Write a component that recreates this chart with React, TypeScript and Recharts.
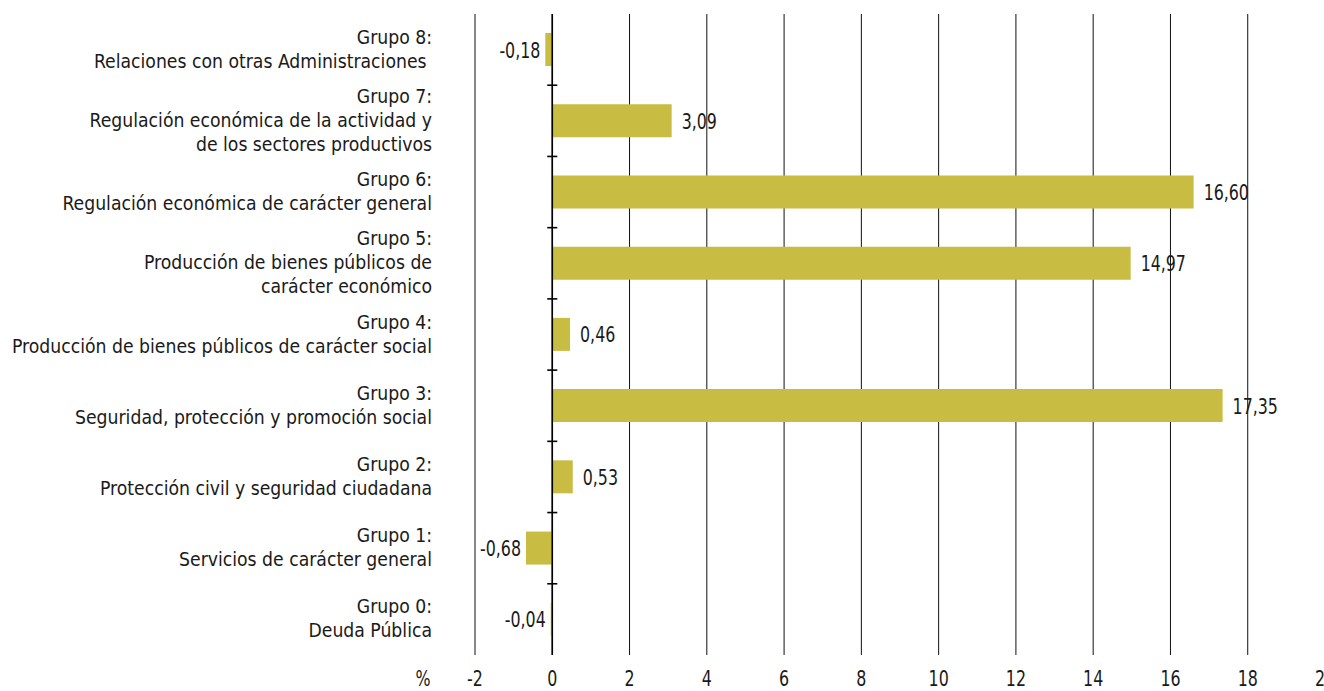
import { BarChart, Bar, XAxis, YAxis, CartesianGrid, ReferenceLine, LabelList } from "recharts";

const groups = ["Grupo 8:", "Grupo 7:", "Grupo 6:", "Grupo 5:", "Grupo 4:", "Grupo 3:", "Grupo 2:", "Grupo 1:", "Grupo 0:"];
const descriptions = [
  ["Relaciones con otras Administraciones\u00a0"],
  ["Regulación económica de la actividad y", "de los sectores productivos"],
  ["Regulación económica de carácter general"],
  ["Producción de bienes públicos de", "carácter económico"],
  ["Producción de bienes públicos de carácter social"],
  ["Seguridad, protección y promoción social"],
  ["Protección civil y seguridad ciudadana"],
  ["Servicios de carácter general"],
  ["Deuda Pública"],
];
const values = [-0.18, 3.09, 16.6, 14.97, 0.46, 17.35, 0.53, -0.68, -0.04];
const xTicks = [-2, 0, 2, 4, 6, 8, 10, 12, 14, 16, 18, 20];

const data = groups.map((g, i) => ({ name: g, lines: [g, ...descriptions[i]], value: values[i] }));

const FONT = "'DejaVu Sans Condensed', 'DejaVu Sans', sans-serif";
const BAR = "#c8bc42";
const INK = "#1a1a1a";

const fmt = (v: number) => v.toFixed(2).replace(".", ",");

// condensed text: the original uses a narrow DIN-like face
function Txt({ x, y, size, sx, anchor, children }: any) {
  return (
    <g transform={`translate(${x},${y}) scale(${sx},1)`}>
      <text x={0} y={0} textAnchor={anchor} fontFamily={FONT} fontSize={size} fill={INK}>
        {children}
      </text>
    </g>
  );
}

function YTick(props: any) {
  const { x, y, payload } = props;
  const row = data.find((d) => d.name === payload.value);
  const lines = row ? row.lines : [payload.value];
  const lh = 24;
  const first = y - ((lines.length - 1) * lh) / 2 + 6;
  return (
    <g>
      {lines.map((l: string, i: number) => (
        <Txt key={i} x={x - 43} y={first + i * lh} size={20} sx={0.96} anchor="end">{l}</Txt>
      ))}
    </g>
  );
}

function XTick(props: any) {
  const { x, y, payload } = props;
  return (
    <g>
      {payload.value === -2 && <Txt x={x - 52} y={y + 23} size={22} sx={0.8} anchor="middle">%</Txt>}
      <Txt x={x} y={y + 23} size={22} sx={0.8} anchor="middle">{payload.value}</Txt>
    </g>
  );
}

function ValueLabel(props: any) {
  const { x, y, width, height, value } = props;
  const left = Math.min(x, x + width);
  const right = Math.max(x, x + width);
  const neg = value < 0;
  return (
    <Txt x={neg ? left - 5 : right + 10} y={y + height / 2 + 8} size={22} sx={0.8} anchor={neg ? "end" : "start"}>
      {fmt(value)}
    </Txt>
  );
}

export default function App() {
  return (
    <div style={{ position: "absolute", left: 0, top: 0, width: 1324, height: 691, overflow: "hidden", background: "#fff" }}>
      <BarChart
        width={1340}
        height={691}
        data={data}
        layout="vertical"
        margin={{ top: 14, right: 15, bottom: 0, left: 0 }}
      >
        <CartesianGrid horizontal={false} stroke="#111" strokeWidth={1} />
        <XAxis
          type="number"
          domain={[-2, 20]}
          ticks={xTicks}
          interval={0}
          axisLine={false}
          tickLine={false}
          height={36}
          tick={<XTick />}
        />
        <YAxis
          type="category"
          dataKey="name"
          width={475}
          axisLine={false}
          tickLine={false}
          tickSize={0}
          tickMargin={0}
          interval={0}
          tick={<YTick />}
        />
        <ReferenceLine x={0} stroke="#000" strokeWidth={1.6} />
        {/* small cross ticks on the zero line between groups */}
        {groups.slice(1).map((g) => (
          <ReferenceLine
            key={g}
            position="start"
            segment={[{ x: -0.13, y: g }, { x: 0.13, y: g }]}
            stroke="#000"
            strokeWidth={1.6}
          />
        ))}
        <Bar dataKey="value" fill={BAR} barSize={33} isAnimationActive={false}>
          <LabelList dataKey="value" content={<ValueLabel />} />
        </Bar>
      </BarChart>
    </div>
  );
}
